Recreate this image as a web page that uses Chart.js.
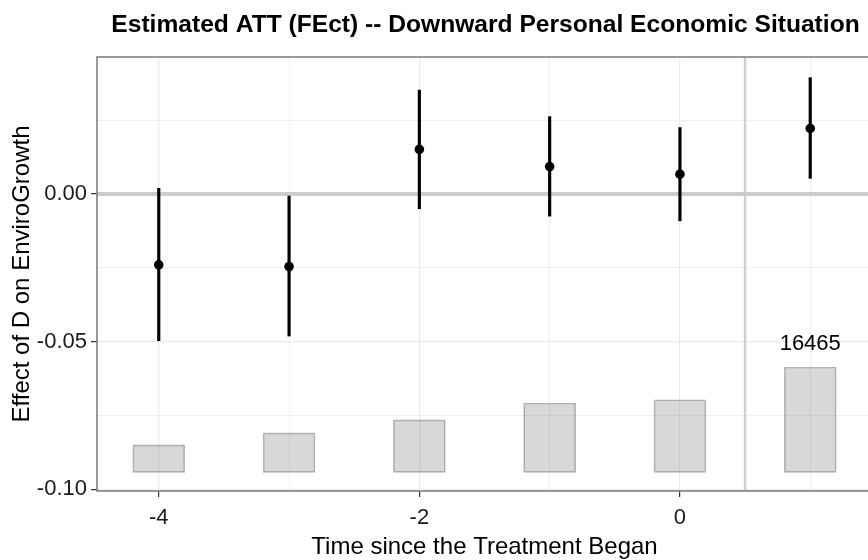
<!DOCTYPE html>
<html>
<head>
<meta charset="utf-8">
<script src="https://cdn.jsdelivr.net/npm/chart.js@4"></script>
<style>
  body { margin: 0; overflow: hidden; background: #fff; }
  #wrap { width: 880px; height: 560px; }
</style>
</head>
<body>
<div id="wrap"><canvas id="grafico"></canvas></div>
<script>
// Datos
const titulo = "Estimated ATT (FEct) -- Downward Personal Economic Situation";
const periods = [-4, -3, -2, -1, 0, 1];
const att = [-0.0240, -0.0246, 0.0151, 0.0093, 0.0067, 0.0222];
const ciLower = [-0.0497, -0.0481, -0.0050, -0.0075, -0.0091, 0.0053];
const ciUpper = [0.0019, -0.0007, 0.0352, 0.0262, 0.0225, 0.0394];
const countBase = -0.0943;
const countTop = [-0.0850, -0.0809, -0.0765, -0.0708, -0.0697, -0.0586];
const countLabels = ["", "", "", "", "", "16465"];
const xTickValues = [-4, -3, -2, -1, 0, 1];
const xTickLabels = ["-4", "", "-2", "", "0", ""];
const yTickValues = [-0.1, -0.075, -0.05, -0.025, 0, 0.025];
const yTickLabels = ["-0.10", "", "-0.05", "", "0.00", ""];
const xLimits = [-4.474, 1.474];
const yLimits = [-0.1006, 0.0464];
const zeroLine = 0;
const treatStart = 0.5;

const FONT = '"Liberation Sans", Arial, Helvetica, sans-serif';
const ctx = document.getElementById("grafico").getContext("2d");

// Borde del panel, titulo y etiqueta de conteo
const extras = {
  id: "extras",
  afterDraw(chart) {
    const { ctx, chartArea: a, scales: { x, y } } = chart;
    ctx.save();
    ctx.strokeStyle = "#7a7a7a";
    ctx.lineWidth = 1.5;
    ctx.strokeRect(a.left, a.top, a.right - a.left, a.bottom - a.top);

    ctx.fillStyle = "#000";
    ctx.font = "bold 24.6px " + FONT;
    ctx.textAlign = "center";
    ctx.textBaseline = "middle";
    ctx.fillText(titulo, (a.left + a.right) / 2 + 1, 25);

    ctx.font = "22px " + FONT;
    ctx.textBaseline = "alphabetic";
    countLabels.forEach((t, i) => {
      if (!t) return;
      ctx.fillText(t, x.getPixelForValue(periods[i]), y.getPixelForValue(countTop[i]) - 17);
    });
    ctx.restore();
  }
};

const yLabel = v => yTickLabels[yTickValues.findIndex(t => Math.abs(t - v) < 1e-9)] || "";
const xLabel = v => xTickLabels[xTickValues.indexOf(v)] || "";
const isMajorY = c => !!(c.tick && yLabel(c.tick.value));
const isMajorX = c => !!(c.tick && xLabel(c.tick.value));

new Chart(ctx, {
  type: "bar",
  data: {
    datasets: [
      {
        type: "line",
        data: periods.map((p, i) => ({ x: p, y: att[i] })),
        showLine: false,
        pointRadius: 4.8,
        pointBackgroundColor: "#000",
        pointBorderWidth: 0,
        order: 0
      },
      {
        data: periods.map((p, i) => ({ x: p, y: [ciLower[i], ciUpper[i]] })),
        backgroundColor: "#000",
        borderWidth: 0,
        barThickness: 2.5,
        grouped: false,
        order: 1
      },
      {
        data: periods.map((p, i) => ({ x: p, y: [countBase, countTop[i]] })),
        backgroundColor: "rgba(127,127,127,0.3)",
        borderColor: "rgba(127,127,127,0.55)",
        borderWidth: 1,
        borderSkipped: false,
        barThickness: 52,
        grouped: false,
        order: 2
      },
      {
        type: "line",
        data: [{ x: xLimits[0], y: zeroLine }, { x: xLimits[1], y: zeroLine }],
        borderColor: "#cccccc",
        borderWidth: 4,
        pointRadius: 0,
        order: 3
      },
      {
        type: "line",
        data: [{ x: treatStart, y: yLimits[0] }, { x: treatStart, y: yLimits[1] }],
        borderColor: "#cfcfcf",
        borderWidth: 2.5,
        pointRadius: 0,
        order: 3
      }
    ]
  },
  options: {
    responsive: true,
    maintainAspectRatio: false,
    animation: false,
    events: [],
    layout: { padding: { top: 57, left: 0, right: 8, bottom: 0 } },
    plugins: {
      legend: { display: false },
      tooltip: { enabled: false },
      title: { display: false }
    },
    scales: {
      x: {
        type: "linear",
        offset: false,
        min: xLimits[0],
        max: xLimits[1],
        afterBuildTicks: ax => { ax.ticks = xTickValues.map(v => ({ value: v })); },
        afterFit: ax => { ax.height = 69; },
        border: { display: false },
        grid: {
          offset: false,
          color: "#ebebeb",
          lineWidth: c => isMajorX(c) ? 1.2 : 0.8,
          tickColor: c => isMajorX(c) ? "#333" : "rgba(0,0,0,0)",
          tickLength: 6
        },
        ticks: {
          padding: 8,
          color: "#1a1a1a",
          font: { family: FONT, size: 22 },
          maxRotation: 0,
          autoSkip: false,
          callback: v => xLabel(v)
        },
        title: {
          display: true,
          text: "Time since the Treatment Began",
          color: "#000",
          font: { family: FONT, size: 24 },
          padding: { top: 0, bottom: -2 }
        }
      },
      y: {
        min: yLimits[0],
        max: yLimits[1],
        afterBuildTicks: ax => { ax.ticks = yTickValues.map(v => ({ value: v })); },
        afterFit: ax => { ax.width = 97; },
        border: { display: false },
        grid: {
          color: "#ebebeb",
          lineWidth: c => isMajorY(c) ? 1.2 : 0.8,
          tickColor: c => isMajorY(c) ? "#333" : "rgba(0,0,0,0)",
          tickLength: 6
        },
        ticks: {
          padding: 4,
          color: "#1a1a1a",
          font: { family: FONT, size: 22 },
          autoSkip: false,
          callback: v => yLabel(v)
        },
        title: {
          display: true,
          text: "Effect of D on EnviroGrowth",
          color: "#000",
          font: { family: FONT, size: 24 },
          padding: { top: 8, bottom: 0 }
        }
      }
    }
  },
  plugins: [extras]
});
</script>
</body>
</html>
